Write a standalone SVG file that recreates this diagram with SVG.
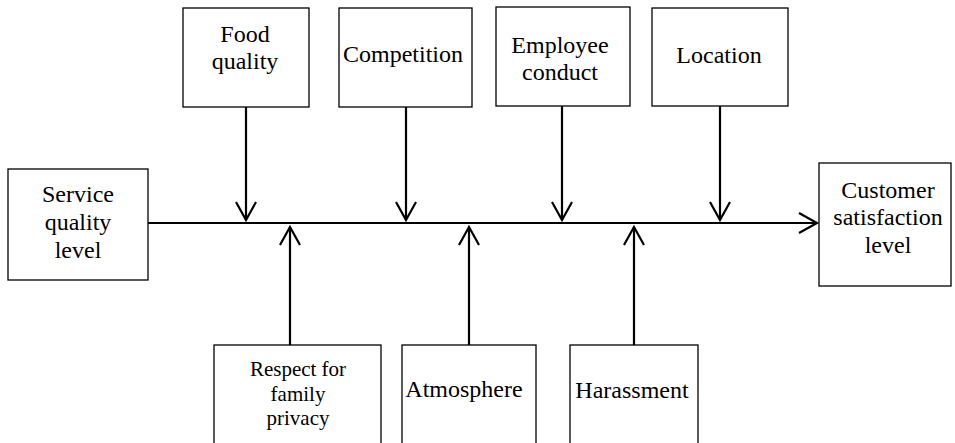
<svg xmlns="http://www.w3.org/2000/svg" width="955" height="443" viewBox="0 0 955 443">
<style>
.box{fill:#fff;stroke:#000;stroke-width:1.3}
.t{font-family:'Liberation Serif','Times New Roman',Times,Tinos,'Nimbus Roman','Nimbus Roman No9 L','DejaVu Serif','Noto Serif',serif;font-size:24px;fill:#000;text-anchor:middle}
.s{font-size:21px}
.c{fill:none;stroke:#000;stroke-width:2.2}
</style>
<defs>
<marker id="ah" markerUnits="userSpaceOnUse" markerWidth="24" markerHeight="24" viewBox="-20 -12 24 24" refX="0" refY="0" orient="auto">
<path d="M-18,-10 L0,0 L-18,10" fill="none" stroke="#000" stroke-width="2.2"/>
</marker>
</defs>
<rect width="955" height="443" fill="#fff"/>
<g id="connectors">
<line class="c" x1="147" y1="223" x2="817" y2="223" marker-end="url(#ah)"/>
<line class="c" x1="246" y1="107" x2="246" y2="220" marker-end="url(#ah)"/>
<line class="c" x1="406" y1="107" x2="406" y2="220" marker-end="url(#ah)"/>
<line class="c" x1="562" y1="106" x2="562" y2="220" marker-end="url(#ah)"/>
<line class="c" x1="720" y1="106" x2="720" y2="220" marker-end="url(#ah)"/>
<line class="c" x1="290" y1="345" x2="290" y2="227" marker-end="url(#ah)"/>
<line class="c" x1="469" y1="345" x2="469" y2="227" marker-end="url(#ah)"/>
<line class="c" x1="634" y1="345" x2="634" y2="227" marker-end="url(#ah)"/>
</g>
<g id="service">
<rect class="box" x="8" y="169" width="140" height="111"/>
<text class="t" x="78" y="202" font-family="Liberation Serif">Service</text>
<text class="t" x="78" y="230">quality</text>
<text class="t" x="78" y="258">level</text>
</g>
<g id="customer">
<rect class="box" x="819" y="163" width="132" height="123"/>
<text class="t" x="888" y="198">Customer</text>
<text class="t" x="888" y="225">satisfaction</text>
<text class="t" x="888" y="253">level</text>
</g>
<g id="food">
<rect class="box" x="183" y="8" width="126" height="99"/>
<text class="t" x="245" y="42">Food</text>
<text class="t" x="245" y="69">quality</text>
</g>
<g id="competition">
<rect class="box" x="339" y="8" width="133" height="99"/>
<text class="t" x="403" y="62">Competition</text>
</g>
<g id="employee">
<rect class="box" x="496" y="7" width="134" height="99"/>
<text class="t" x="560" y="53">Employee</text>
<text class="t" x="560" y="80">conduct</text>
</g>
<g id="location">
<rect class="box" x="652" y="8" width="136" height="98"/>
<text class="t" x="719" y="63">Location</text>
</g>
<g id="respect">
<rect class="box" x="214" y="345" width="167" height="105"/>
<text class="t s" x="298" y="376">Respect for</text>
<text class="t s" x="298" y="401">family</text>
<text class="t s" x="298" y="425">privacy</text>
</g>
<g id="atmosphere">
<rect class="box" x="402" y="345" width="134" height="105"/>
<text class="t" x="464" y="397">Atmosphere</text>
</g>
<g id="harassment">
<rect class="box" x="570" y="345" width="128" height="105"/>
<text class="t" x="632" y="398">Harassment</text>
</g>
</svg>
